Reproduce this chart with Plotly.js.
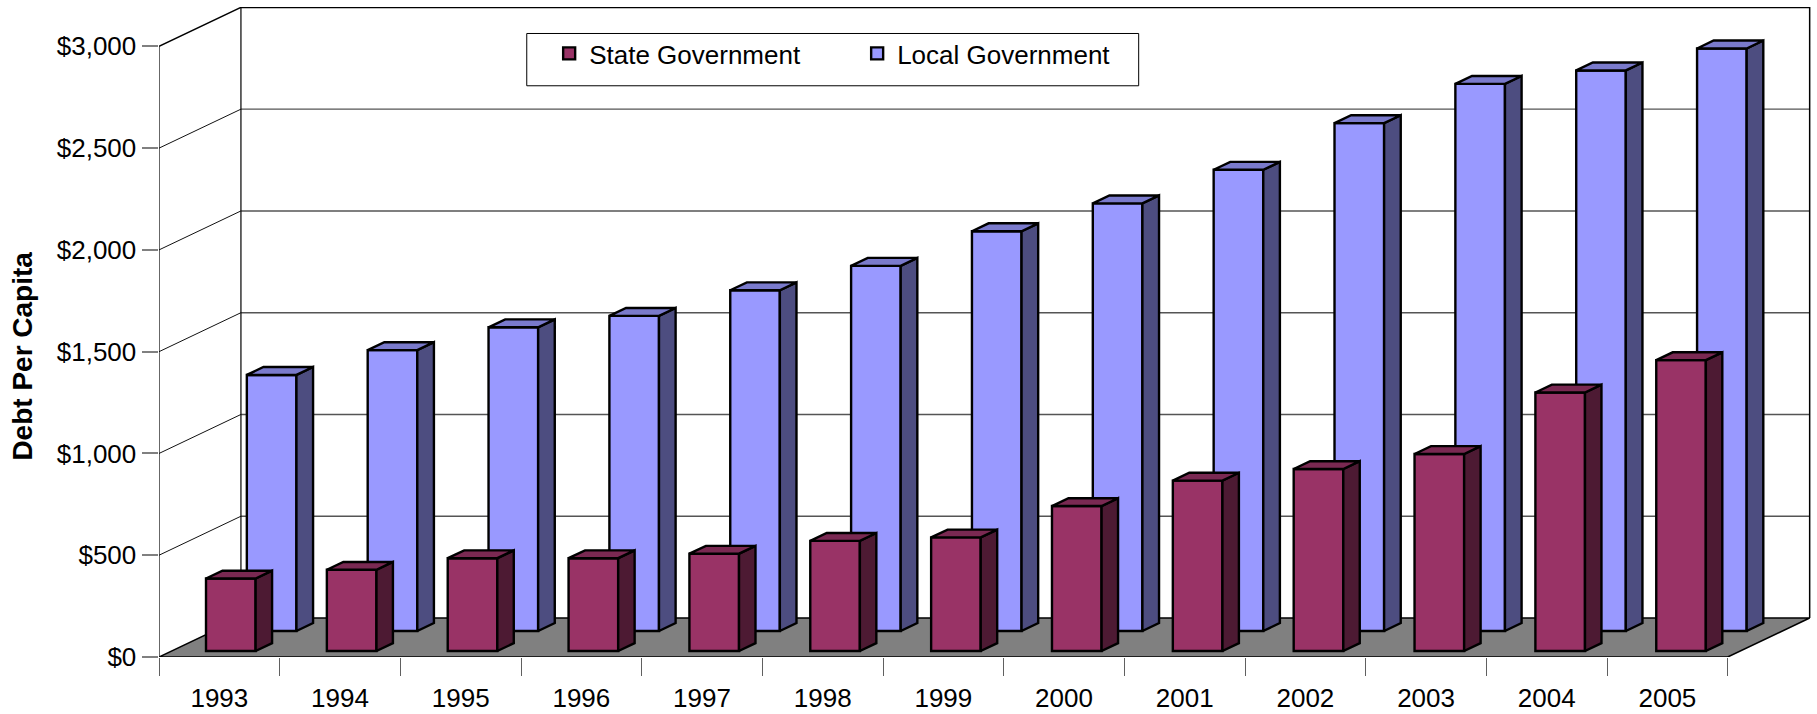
<!DOCTYPE html>
<html>
<head>
<meta charset="utf-8">
<script src="https://cdn.plot.ly/plotly-3.0.1.min.js"></script>
<style>html,body{margin:0;padding:0;background:#fff}#chart{width:1817px;height:714px}</style>
</head>
<body>
<div id="chart"></div>
<script>
const categories = ['1993','1994','1995','1996','1997','1998','1999','2000','2001','2002','2003','2004','2005'];
const stateDebt = [356, 399, 456, 456, 478, 541, 558, 712, 837, 894, 968, 1270, 1429];
const localDebt = [1258, 1380, 1492, 1548, 1674, 1794, 1964, 2101, 2266, 2495, 2688, 2754, 2862];
const yTicks = [0, 500, 1000, 1500, 2000, 2500, 3000];

// Oblique projection of the 3-D box: one unit of depth moves a point this far on the axes
const DX = 0.679, DY = 191.6;
const BAR_L = 0.285, BAR_R = 0.696, PITCH = 1.0015;
const STATE_DEPTH = [0.154, 0.355], LOCAL_DEPTH = [0.667, 0.87];
const LOCAL_SHIFT = -0.01;
const XMAX = 13.69, YMAX = 3193.5;
const N = categories.length;
const LW = 2.4;

const px = (x, d) => x + d * DX;
const py = (v, d) => v + d * DY;

function poly(pts, axes, fill, lw) {
  const x = [], y = [];
  pts.forEach(p => {
    p.forEach(q => { x.push(px(q[0], q[1])); y.push(py(q[2], q[1])); });
    x.push(px(p[0][0], p[0][1])); y.push(py(p[0][2], p[0][1]));
    x.push(null); y.push(null);
  });
  return {type:'scatter', mode:'lines', x, y, xaxis:axes[0], yaxis:axes[1], fill:'toself', fillcolor:fill,
          line:{color:'#000', width:lw}, showlegend:false, hoverinfo:'skip', cliponaxis:false};
}
function line(x, y, color, w) {
  return {type:'scatter', mode:'lines', x, y, xaxis:'x', yaxis:'y',
          line:{color, width:w}, showlegend:false, hoverinfo:'skip', cliponaxis:false};
}
function series(name, vals, depth, shift, axes, front, side, top) {
  const f = depth[0], b = depth[1];
  const L = i => i*PITCH + BAR_L + shift, R = i => i*PITCH + BAR_R + shift;
  const bar = {type:'bar', name, x:vals.map((v,i)=>px((L(i)+R(i))/2, f)), y:vals,
    base:vals.map(()=>py(0,f)), width:BAR_R-BAR_L, xaxis:axes[0], yaxis:axes[1],
    marker:{color:front, line:{color:'#000', width:LW}},
    customdata:categories, hovertemplate:'%{customdata}: $%{y:,.0f}<extra>'+name+'</extra>'};
  const sides = poly(vals.map((v,i)=>[[R(i),f,0],[R(i),b,0],[R(i),b,v],[R(i),f,v]]), axes, side, LW);
  const tops = poly(vals.map((v,i)=>[[L(i),f,v],[R(i),f,v],[R(i),b,v],[L(i),b,v]]), axes, top, LW);
  return [bar, sides, tops];
}

const traces = [];
// State first so that the legend lists it first; the overlay axes decide the painting order.
traces.push(...series('State Government', stateDebt, STATE_DEPTH, 0, ['x3','y3'], '#993366', '#4d1a33', '#7a2952'));
traces.push(...series('Local Government', localDebt, LOCAL_DEPTH, LOCAL_SHIFT, ['x2','y2'], '#9999ff', '#4d4d80', '#7a7acc'));

// Box: walls, grid, floor
const yTop = yTicks[yTicks.length-1];
yTicks.slice(1,-1).forEach(v => {
  traces.push(line([px(0,0),px(0,1)], [py(v,0),py(v,1)], '#111', 1));
  traces.push(line([px(0,1),px(N,1)], [py(v,1),py(v,1)], '#555', 1.4));
});
traces.push(line([px(0,0),px(0,0)], [py(0,0),py(yTop,0)], '#000', 1.2));
traces.push(line([px(0,0),px(0,1),px(N,1),px(N,1)], [py(yTop,0),py(yTop,1),py(yTop,1),py(0,1)], '#000', 1.5));
traces.push(line([px(0,1),px(0,1)], [py(0,1),py(yTop,1)], '#000', 1.2));
traces.push(poly([[[0,0,0],[N,0,0],[N,1,0],[0,1,0]]], ['x','y'], '#808080', 1.5));

const hiddenX = {range:[0,XMAX], visible:false, overlaying:'x', fixedrange:true};
const hiddenY = {range:[0,YMAX], visible:false, overlaying:'y', fixedrange:true};
const font = 'Liberation Sans, Arial, sans-serif';
const paperX = p => (p-158.5)/1652.2, paperY = p => (656.7-p)/650.2;

const layout = {
  width:1817, height:714, autosize:false,
  margin:{l:158.5, t:6.5, r:6.3, b:57.3, pad:0},
  paper_bgcolor:'#fff', plot_bgcolor:'#fff', barmode:'overlay',
  font:{family:font, color:'#000', size:26},
  xaxis:{range:[0,XMAX], showgrid:false, zeroline:false, showline:false, fixedrange:true,
    tickmode:'array', tickvals:categories.map((c,i)=>i+0.5), ticktext:categories,
    ticks:'outside', ticklen:17.5, tickcolor:'rgba(0,0,0,0)', ticklabelstandoff:0,
    minor:{tickmode:'array', tickvals:categories.map((c,i)=>i).concat([N]), ticks:'outside', ticklen:17.5, tickcolor:'#606060', tickwidth:1.2, showgrid:false}},
  yaxis:{range:[0,YMAX], showgrid:false, zeroline:false, showline:false, fixedrange:true,
    tickmode:'array', tickvals:yTicks, tickformat:'$,.0f',
    ticks:'outside', ticklen:16.5, tickcolor:'#808080', tickwidth:1.5, ticklabelstandoff:0},
  xaxis2:Object.assign({anchor:'y2'},hiddenX), yaxis2:Object.assign({anchor:'x2'},hiddenY),
  xaxis3:Object.assign({anchor:'y3'},hiddenX), yaxis3:Object.assign({anchor:'x3'},hiddenY),
  shapes:[{type:'rect', xref:'paper', yref:'paper', x0:paperX(526.3), x1:paperX(1138.3), y0:paperY(85.3), y1:paperY(33),
    fillcolor:'#fff', line:{color:'#000', width:1}, layer:'above'}],
  legend:{orientation:'h', x:paperX(548.7), xanchor:'left', y:paperY(29.5), yanchor:'top',
    bgcolor:'rgba(0,0,0,0)', borderwidth:0,
    font:{family:font, size:26},
    entrywidth:263, entrywidthmode:'pixels', itemclick:false, itemdoubleclick:false},
  annotations:[{text:'<b>Debt Per Capita</b>', xref:'paper', yref:'paper', x:-0.0828, y:paperY(356),
    xanchor:'center', yanchor:'middle', textangle:-90, showarrow:false,
    font:{family:font, size:28, color:'#000'}}]
};
Plotly.newPlot('chart', traces, layout, {displayModeBar:false, responsive:false});
</script>
</body>
</html>
